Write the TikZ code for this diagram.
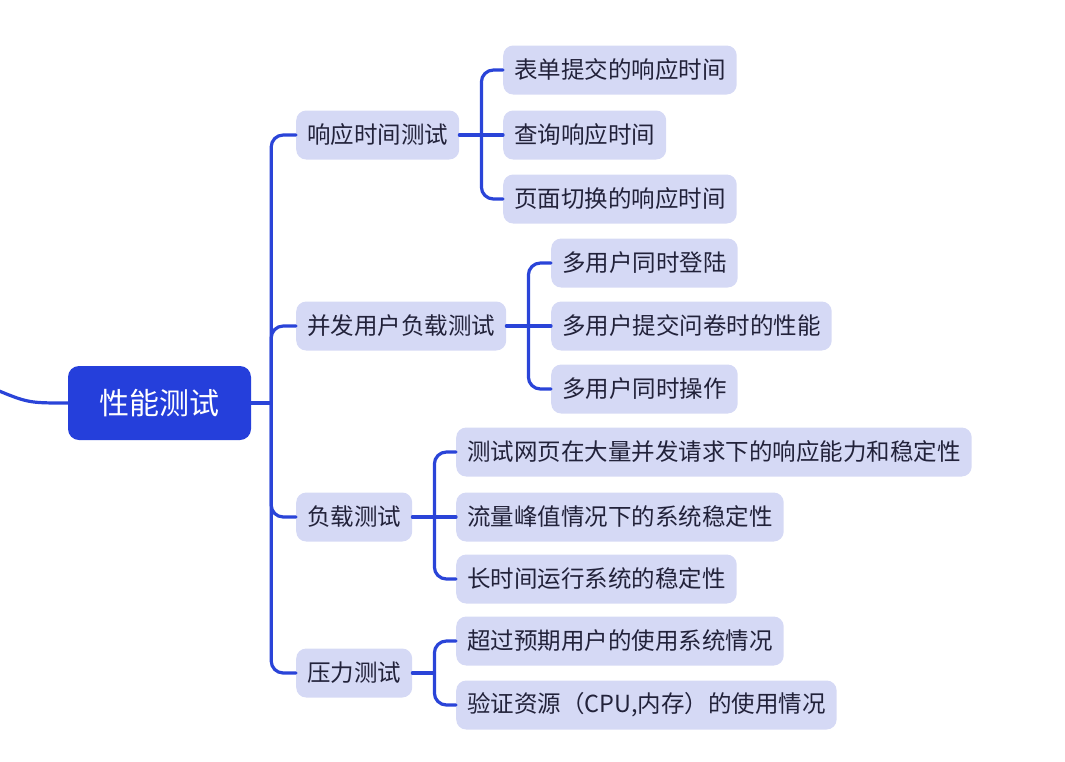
\documentclass[tikz,border=0pt]{standalone}
\usepackage{fontspec}
\setmainfont{Noto Sans CJK SC}
\usetikzlibrary{positioning,calc}
\definecolor{rootblue}{HTML}{253FDB}
\definecolor{linkblue}{HTML}{2A44D8}
\definecolor{lavender}{HTML}{D5D9F5}
\definecolor{ink}{HTML}{22223A}

\begin{document}
\begin{tikzpicture}[x=1pt, y=-1pt, line cap=round,
  topic/.style={fill=lavender, rounded corners=10pt, minimum height=49pt, inner xsep=11pt,
    anchor=west, text=ink, font=\fontsize{23.5}{28}\selectfont},
  link/.style={draw=linkblue, line width=3.2pt, rounded corners=12pt}]
  \useasboundingbox (0,0) rectangle (1065,761);
  \node[fill=rootblue, rounded corners=11pt, minimum width=183pt, minimum height=74pt,
    text=white, font=\fontsize{30}{36}\selectfont] (root) at (159.5,403) {性能测试};
  \coordinate (src) at (-8,388);
  \draw[link] (src) .. controls (28,403) .. (root.west);
  % first level
  \node[topic] (rt) at (296,135) {响应时间测试};
  \node[topic] (cu) at (296,326) {并发用户负载测试};
  \node[topic] (ld) at (296,517) {负载测试};
  \node[topic] (st) at (296,673) {压力测试};
  \coordinate (trunk) at ($(root.east)+(20,0)$);
  \draw[link] (root.east) -- (trunk);
  \draw[link] (rt.west) -| (trunk) |- (st.west);
  \draw[link] (cu.west) -| (trunk);
  \draw[link] (ld.west) -| (trunk);
  % second level
  \node[topic] (rt1) at (503,70) {表单提交的响应时间};
  \node[topic] (rt2) at (503,135) {查询响应时间};
  \node[topic] (rt3) at (503,199) {页面切换的响应时间};
  \node[topic] (cu1) at (551,263) {多用户同时登陆};
  \node[topic] (cu2) at (551,326) {多用户提交问卷时的性能};
  \node[topic] (cu3) at (551,389) {多用户同时操作};
  \node[topic] (ld1) at (456,452) {测试网页在大量并发请求下的响应能力和稳定性};
  \node[topic] (ld2) at (456,517) {流量峰值情况下的系统稳定性};
  \node[topic] (ld3) at (456,579) {长时间运行系统的稳定性};
  \node[topic] (st1) at (456,641) {超过预期用户的使用系统情况};
  \node[topic] (st2) at (456,705) {验证资源（CPU,内存）的使用情况};
  \foreach \p/\a/\b in {rt/rt1/rt3, cu/cu1/cu3, ld/ld1/ld3, st/st1/st2}
    {\coordinate (\p-j) at ($(\p.east)+(22,0)$);
     \draw[link] (\p.east) -- (\p-j);
     \draw[link] (\a.west) -| (\p-j) |- (\b.west);}
  \draw[link] (rt-j) -- (rt2.west);
  \draw[link] (cu-j) -- (cu2.west);
  \draw[link] (ld-j) -- (ld2.west);
\end{tikzpicture}
\end{document}
